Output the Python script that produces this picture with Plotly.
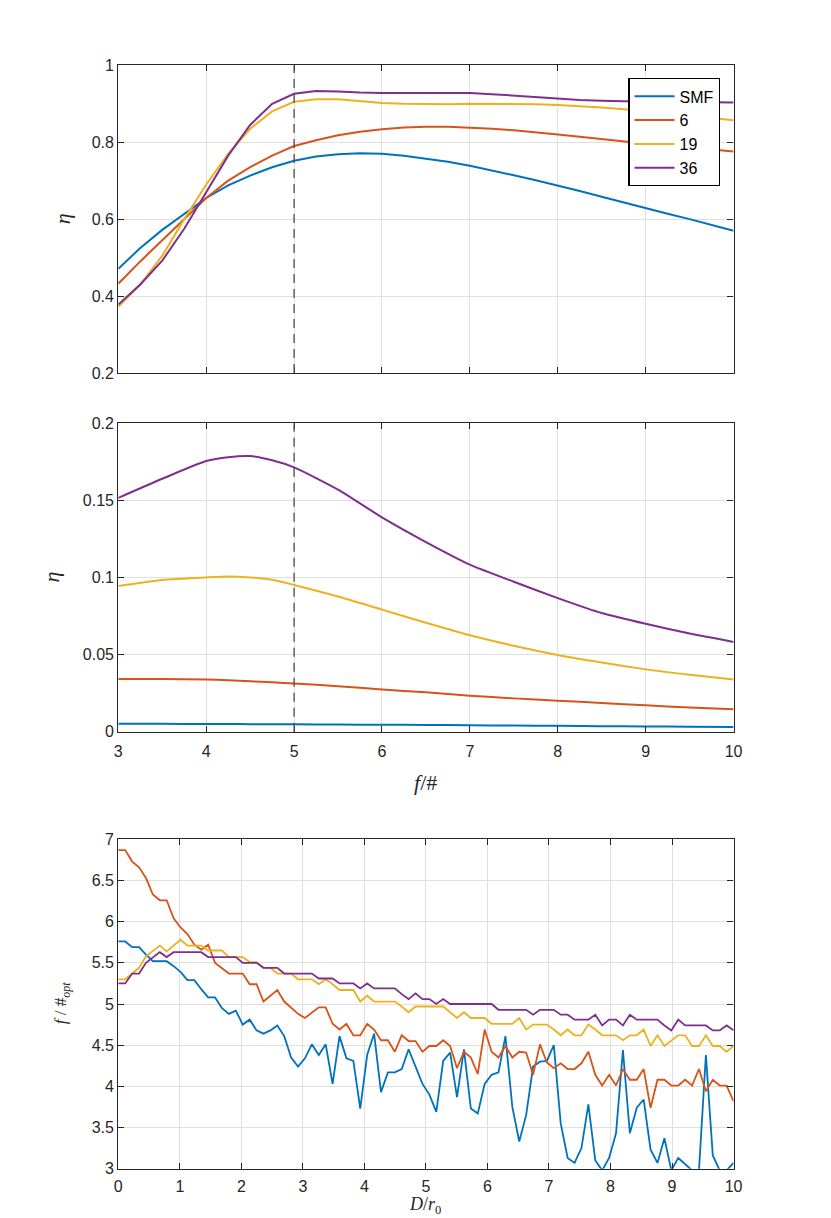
import numpy as np
import plotly.graph_objects as go

# ---- top / middle panels: efficiency vs f-number ----
fnum = [3, 3.25, 3.5, 3.75, 4, 4.25, 4.5, 4.75, 5, 5.25, 5.5, 5.75, 6, 6.25, 6.5,
        6.75, 7, 7.25, 7.5, 7.75, 8, 8.25, 8.5, 8.75, 9, 9.25, 9.5, 9.75, 10]

eta_top = {
    'SMF': [0.471, 0.525, 0.572, 0.613, 0.655, 0.688, 0.713, 0.735, 0.752, 0.763,
            0.769, 0.771, 0.770, 0.765, 0.757, 0.749, 0.739, 0.727, 0.714, 0.701,
            0.688, 0.673, 0.658, 0.643, 0.629, 0.614, 0.600, 0.585, 0.570],
    '6': [0.432, 0.490, 0.545, 0.600, 0.655, 0.700, 0.735, 0.765, 0.790, 0.805,
          0.818, 0.827, 0.834, 0.838, 0.840, 0.840, 0.838, 0.835, 0.831, 0.826,
          0.820, 0.814, 0.808, 0.801, 0.795, 0.790, 0.786, 0.781, 0.776],
    '19': [0.372, 0.430, 0.505, 0.600, 0.690, 0.770, 0.835, 0.880, 0.905, 0.912,
           0.912, 0.907, 0.902, 0.900, 0.899, 0.899, 0.900, 0.900, 0.900, 0.899,
           0.897, 0.894, 0.890, 0.886, 0.881, 0.876, 0.870, 0.863, 0.857],
    '36': [0.378, 0.430, 0.492, 0.575, 0.670, 0.765, 0.845, 0.900, 0.926, 0.933,
           0.932, 0.929, 0.928, 0.928, 0.929, 0.929, 0.928, 0.925, 0.921, 0.917,
           0.913, 0.910, 0.908, 0.906, 0.905, 0.905, 0.904, 0.904, 0.903],
}

fnum_mid = [3, 3.5, 4, 4.25, 4.5, 4.75, 5, 5.5, 6, 6.5, 7, 7.5, 8, 8.5, 9, 9.5, 10]
eta_mid = {
    'SMF': [0.0053, 0.0052, 0.0051, 0.0051, 0.0050, 0.0050, 0.0049, 0.0047, 0.0046,
            0.0045, 0.0043, 0.0041, 0.0039, 0.0037, 0.0035, 0.0033, 0.0032],
    '6': [0.0343, 0.0343, 0.0339, 0.0335, 0.0328, 0.0321, 0.0313, 0.0296, 0.0275,
          0.0256, 0.0234, 0.0217, 0.0202, 0.0187, 0.0172, 0.0158, 0.0147],
    '19': [0.0945, 0.0984, 0.1001, 0.1007, 0.1001, 0.0986, 0.0952, 0.0877, 0.0792,
           0.0707, 0.0626, 0.0558, 0.0498, 0.0449, 0.0405, 0.0370, 0.0339],
    '36': [0.1516, 0.1640, 0.1755, 0.1780, 0.1787, 0.1760, 0.1714, 0.1570, 0.1390,
           0.1230, 0.1084, 0.0973, 0.0867, 0.0770, 0.0700, 0.0637, 0.0583],
}
f_ref = 5

# ---- bottom panel: optimum f-number vs D/r0 ----
d_r0 = np.linspace(0, 10, 90)
fopt = {
    'SMF': [5.76, 5.76, 5.69, 5.69, 5.60, 5.52, 5.52, 5.52, 5.46, 5.39,
            5.29, 5.29, 5.18, 5.08, 5.08, 4.95, 4.88, 4.92, 4.75, 4.81,
            4.68, 4.64, 4.68, 4.74, 4.61, 4.35, 4.24, 4.34, 4.51, 4.38,
            4.51, 4.03, 4.61, 4.34, 4.31, 3.73, 4.38, 4.64, 3.93, 4.17,
            4.17, 4.21, 4.45, 4.24, 4.03, 3.90, 3.69, 4.31, 4.41, 3.87,
            4.45, 3.73, 3.67, 4.03, 4.14, 4.17, 4.61, 3.75, 3.33, 3.65,
            4.24, 4.30, 4.31, 4.50, 3.55, 3.13, 3.07, 3.25, 3.78, 3.10,
            2.98, 3.13, 3.43, 4.44, 3.43, 3.74, 3.84, 3.23, 3.07, 3.37,
            2.98, 3.13, 3.05, 2.98, 2.98, 4.38, 3.16, 2.98, 2.98, 3.07],
    '6': [6.87, 6.87, 6.73, 6.66, 6.53, 6.33, 6.26, 6.26, 6.04, 5.93,
          5.85, 5.72, 5.66, 5.72, 5.50, 5.43, 5.37, 5.37, 5.37, 5.24,
          5.24, 5.03, 5.10, 5.17, 5.03, 4.95, 4.88, 4.83, 4.90, 4.96,
          4.96, 4.76, 4.69, 4.76, 4.62, 4.62, 4.76, 4.69, 4.56, 4.56,
          4.42, 4.62, 4.55, 4.55, 4.42, 4.49, 4.49, 4.56, 4.49, 4.22,
          4.42, 4.35, 4.15, 4.69, 4.42, 4.35, 4.49, 4.35, 4.42, 4.41,
          4.14, 4.51, 4.29, 4.22, 4.28, 4.21, 4.21, 4.28, 4.42, 4.14,
          4.01, 4.14, 4.01, 4.21, 4.08, 4.08, 4.21, 3.74, 4.08, 4.08,
          4.01, 4.01, 4.08, 4.01, 4.21, 3.94, 4.08, 4.01, 4.01, 3.82],
    '19': [5.30, 5.30, 5.37, 5.44, 5.58, 5.65, 5.71, 5.64, 5.71, 5.78,
           5.71, 5.71, 5.71, 5.65, 5.65, 5.65, 5.57, 5.57, 5.57, 5.51,
           5.51, 5.44, 5.44, 5.37, 5.37, 5.37, 5.30, 5.30, 5.30, 5.24,
           5.30, 5.24, 5.17, 5.17, 5.17, 5.03, 5.10, 5.03, 5.03, 5.03,
           5.03, 4.97, 4.90, 4.97, 4.97, 4.97, 4.97, 4.97, 4.90, 4.83,
           4.90, 4.83, 4.83, 4.83, 4.76, 4.76, 4.76, 4.76, 4.83, 4.69,
           4.75, 4.75, 4.75, 4.69, 4.62, 4.69, 4.62, 4.62, 4.75, 4.69,
           4.62, 4.62, 4.62, 4.56, 4.62, 4.62, 4.69, 4.49, 4.62, 4.49,
           4.55, 4.62, 4.62, 4.49, 4.49, 4.62, 4.49, 4.49, 4.42, 4.49],
    '36': [5.25, 5.25, 5.37, 5.37, 5.50, 5.57, 5.63, 5.57, 5.63, 5.63,
           5.63, 5.63, 5.63, 5.57, 5.57, 5.57, 5.57, 5.57, 5.50, 5.50,
           5.50, 5.44, 5.44, 5.44, 5.37, 5.37, 5.37, 5.37, 5.37, 5.31,
           5.31, 5.31, 5.25, 5.25, 5.25, 5.19, 5.25, 5.19, 5.19, 5.19,
           5.19, 5.12, 5.06, 5.13, 5.06, 5.06, 5.00, 5.06, 5.00, 5.00,
           5.00, 5.00, 5.00, 5.00, 5.00, 4.93, 4.93, 4.93, 4.93, 4.93,
           4.87, 4.93, 4.93, 4.93, 4.87, 4.87, 4.81, 4.81, 4.81, 4.87,
           4.74, 4.81, 4.81, 4.74, 4.87, 4.81, 4.81, 4.81, 4.81, 4.74,
           4.68, 4.81, 4.74, 4.74, 4.74, 4.74, 4.68, 4.68, 4.74, 4.68],
}

colors = {'SMF': '#0072BD', '6': '#D95319', '19': '#EDB120', '36': '#7E2F8E'}

W, H = 831, 1218


def px(x):
    return x / W


def py(y):
    return 1 - y / H


fig = go.Figure()

for name in ['SMF', '6', '19', '36']:
    fig.add_trace(go.Scatter(x=fnum, y=eta_top[name], name=name, mode='lines',
                             line=dict(color=colors[name], width=2),
                             xaxis='x', yaxis='y'))
for name in ['SMF', '6', '19', '36']:
    fig.add_trace(go.Scatter(x=fnum_mid, y=eta_mid[name], name=name, mode='lines',
                             line=dict(color=colors[name], width=2, shape='spline', smoothing=0.6),
                             xaxis='x2', yaxis='y2', showlegend=False))
for name in ['SMF', '6', '19', '36']:
    fig.add_trace(go.Scatter(x=d_r0, y=fopt[name], name=name, mode='lines',
                             line=dict(color=colors[name], width=1.8),
                             xaxis='x3', yaxis='y3', showlegend=False))

tick_font = dict(family='Liberation Sans, Arial, sans-serif', size=16, color='#262626')
ax_common = dict(showline=True, linecolor='#262626', linewidth=1.3, mirror='ticks',
                 ticks='inside', ticklen=6, tickwidth=1.3, tickcolor='#262626',
                 showgrid=True, gridcolor='#e0e0e0', gridwidth=1.2, zeroline=False,
                 tickfont=tick_font)

xdom = [px(108), px(733)]
fig.update_layout(
    width=W, height=H,
    margin=dict(l=0, r=0, t=0, b=0),
    paper_bgcolor='white', plot_bgcolor='white',
    xaxis=dict(ax_common, domain=xdom, range=[3, 10], dtick=1, showticklabels=False,
               anchor='y'),
    yaxis=dict(ax_common, domain=[py(362), py(50)], range=[0.2, 1],
               tickvals=[0.2, 0.4, 0.6, 0.8, 1], ticktext=['0.2', '0.4', '0.6', '0.8', '1'],
               anchor='x'),
    xaxis2=dict(ax_common, domain=xdom, range=[3, 10], dtick=1, anchor='y2',
                ticklabelstandoff=5),
    yaxis2=dict(ax_common, domain=[py(726), py(413)], range=[0, 0.2],
                tickvals=[0, 0.05, 0.1, 0.15, 0.2], ticktext=['0', '0.05', '0.1', '0.15', '0.2'],
                anchor='x2'),
    xaxis3=dict(ax_common, domain=xdom, range=[0, 10], dtick=1, anchor='y3',
                ticklabelstandoff=3),
    yaxis3=dict(ax_common, domain=[py(1169), py(835)], range=[3, 7], dtick=0.5,
                anchor='x3'),
    legend=dict(x=px(626), y=py(63), xanchor='left', yanchor='top',
                bgcolor='white', bordercolor='#000000', borderwidth=1.3,
                font=dict(family='Liberation Sans, Arial, sans-serif', size=16, color='#000000'),
                tracegroupgap=0, itemwidth=40),
    showlegend=True,
)

for xr, yr in [('x', 'y domain'), ('x2', 'y2 domain')]:
    fig.add_shape(type='line', xref=xr, yref=yr, x0=f_ref, x1=f_ref, y0=0, y1=1,
                  line=dict(color='#4d4d4d', width=1.3, dash='9px,6px'))

serif = 'Liberation Serif, DejaVu Serif, serif'
labels = [
    ('<i>η</i>', 51, 206, 22, -90),
    ('<i>η</i>', 40, 569, 22, -90),
    ('<i>f</i>/#', 420, 777, 22, 0),
    ('<i>f</i> / #<sub><i>opt</i></sub>', 51, 1001, 17, -90),
    ('<i>D</i>/<i>r</i><sub>0</sub>', 420, 1206, 18, 0),
]
for text, x, y, size, ang in labels:
    fig.add_annotation(text=text, x=px(x), y=py(y), xref='paper', yref='paper',
                       showarrow=False, textangle=ang, xanchor='center', yanchor='middle',
                       font=dict(family=serif, size=size, color='#262626'))

fig.write_html('out.html')
